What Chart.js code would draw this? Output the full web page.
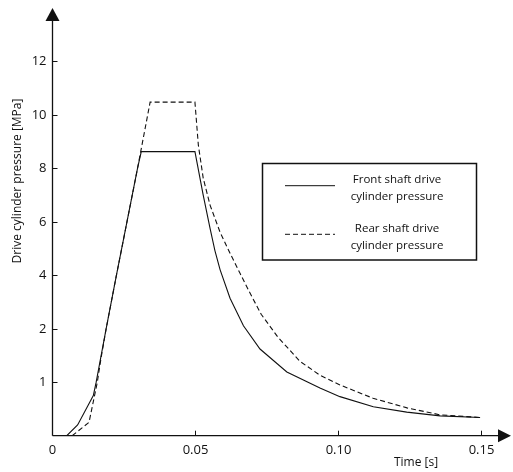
<!DOCTYPE html>
<html>
<head>
<meta charset="utf-8">
<script src="https://cdn.jsdelivr.net/npm/chart.js@4/dist/chart.umd.min.js"></script>
<style>
  html, body { margin: 0; padding: 0; background: #fff; }
  #wrap { width: 513px; height: 472px; position: relative; }
</style>
</head>
<body>
<div id="wrap"><canvas id="chart"></canvas></div>
<script>
// Front shaft drive cylinder (solid)
const frontTime = [0.0050, 0.0088, 0.0143, 0.0153, 0.0188, 0.0224, 0.0261, 0.0298, 0.0311,
  0.0499, 0.0528, 0.0552, 0.0569, 0.0587, 0.0622, 0.0669, 0.0727, 0.0821,
  0.0937, 0.1007, 0.1124, 0.1241, 0.1358, 0.1498];
const frontPressure = [0, 0.2, 0.75, 1.0, 2.0, 4.0, 6.0, 8.0, 8.62,
  8.62, 6.99, 5.75, 4.92, 4.21, 3.14, 2.11, 1.62, 1.19,
  0.89, 0.73, 0.54, 0.44, 0.37, 0.34];

// Rear shaft drive cylinder (dashed)
const rearTime = [0.0069, 0.0128, 0.0157, 0.0170, 0.0188, 0.0224, 0.0261, 0.0298, 0.0342,
  0.0499, 0.0511, 0.0528, 0.0552, 0.0587, 0.0622, 0.0657, 0.0692, 0.0731, 0.0790,
  0.0867, 0.0937, 0.1007, 0.1123, 0.1242, 0.1358, 0.1498];
const rearPressure = [0, 0.25, 1.0, 1.45, 2.0, 4.0, 6.0, 8.0, 10.47,
  10.47, 8.86, 7.63, 6.62, 5.61, 4.82, 4.07, 3.33, 2.54, 1.84,
  1.39, 1.13, 0.95, 0.70, 0.52, 0.39, 0.34];

// axes
const xTicks = [0.05, 0.10, 0.15];
const yTicks = [1, 2, 4, 6, 8, 10, 12];
// the pressure axis puts these values at equal spacing
const yBreaks = [0, 1, 2, 4, 6, 8, 10, 12, 14];

const legendLines = [
  ["Front shaft drive", "cylinder pressure"],
  ["Rear shaft drive", "cylinder pressure"],
];

const FONT = "'Open Sans', 'Noto Sans', sans-serif";
const INK = "#111";

// Scale with equally spaced, unevenly valued breakpoints
class StepScale extends Chart.LinearScale {
  getPixelForValue(value) {
    const n = yBreaks.length - 1;
    let i = 0;
    while (i < n - 1 && value > yBreaks[i + 1]) i++;
    const f = (value - yBreaks[i]) / (yBreaks[i + 1] - yBreaks[i]);
    return this.getPixelForDecimal((i + f) / n);
  }
  getValueForPixel(pixel) {
    const n = yBreaks.length - 1;
    const d = this.getDecimalForPixel(pixel) * n;
    const i = Math.max(0, Math.min(n - 1, Math.floor(d)));
    return yBreaks[i] + (d - i) * (yBreaks[i + 1] - yBreaks[i]);
  }
}
StepScale.id = "stepped";
StepScale.defaults = Chart.LinearScale.defaults;
Chart.register(StepScale);

function points(xs, ys) {
  return xs.map((x, i) => ({ x: x, y: ys[i] }));
}

// axes with arrows, inner tick marks, labels, titles and boxed legend
const decorations = {
  id: "decorations",
  afterDraw(chart) {
    const c = chart.ctx;
    const xs = chart.scales.x;
    const ys = chart.scales.y;
    const x0 = xs.getPixelForValue(0);
    const y0 = ys.getPixelForValue(0);
    c.save();
    c.strokeStyle = INK;
    c.fillStyle = INK;
    c.lineWidth = 1.3;

    // y axis + arrow
    c.beginPath();
    c.moveTo(x0, y0);
    c.lineTo(x0, 20);
    c.stroke();
    c.beginPath();
    c.moveTo(x0, 8);
    c.lineTo(x0 - 7, 21);
    c.lineTo(x0 + 7, 21);
    c.closePath();
    c.fill();

    // x axis + arrow
    c.beginPath();
    c.moveTo(x0, y0);
    c.lineTo(500, y0);
    c.stroke();
    c.beginPath();
    c.moveTo(511, y0);
    c.lineTo(498, y0 - 6.5);
    c.lineTo(498, y0 + 6.5);
    c.closePath();
    c.fill();

    // ticks
    c.lineWidth = 1;
    c.font = "13px " + FONT;
    c.textAlign = "right";
    c.textBaseline = "middle";
    yTicks.forEach((v) => {
      const p = Math.round(ys.getPixelForValue(v)) + 0.5;
      c.beginPath();
      c.moveTo(x0, p);
      c.lineTo(x0 + 5, p);
      c.stroke();
      c.fillText(String(v), x0 - 6, p);
    });
    c.textAlign = "center";
    c.textBaseline = "top";
    c.fillText("0", x0, 444);
    xTicks.forEach((v) => {
      const p = Math.round(xs.getPixelForValue(v)) + 0.5;
      c.beginPath();
      c.moveTo(p, y0);
      c.lineTo(p, y0 - 5);
      c.stroke();
      c.fillText(v.toFixed(2), p, 444);
    });

    // titles
    c.font = "12px " + FONT;
    c.textBaseline = "middle";
    c.fillText("Time [s]", 416, 463);
    c.save();
    c.translate(18, 181);
    c.rotate(-Math.PI / 2);
    c.fillText("Drive cylinder pressure [MPa]", 0, 0);
    c.restore();

    // legend
    c.lineWidth = 1.5;
    c.strokeRect(262.5, 163.5, 214, 96.5);
    c.font = "11.5px " + FONT;
    const rows = [185.7, 234.3];
    chart.data.datasets.forEach((ds, i) => {
      const y = rows[i];
      c.lineWidth = 1;
      c.setLineDash(ds.borderDash || []);
      c.beginPath();
      c.moveTo(285, y);
      c.lineTo(335, y);
      c.stroke();
      c.setLineDash([]);
      c.fillText(legendLines[i][0], 397, y - 6);
      c.fillText(legendLines[i][1], 397, y + 11.5);
    });
    c.restore();
  },
};

new Chart(document.getElementById("chart"), {
  type: "line",
  data: {
    datasets: [
      {
        label: "Front shaft drive cylinder pressure",
        data: points(frontTime, frontPressure),
        borderColor: INK,
        borderWidth: 1.1,
        pointRadius: 0,
        tension: 0,
      },
      {
        label: "Rear shaft drive cylinder pressure",
        data: points(rearTime, rearPressure),
        borderColor: INK,
        borderWidth: 1.1,
        borderDash: [5, 3],
        pointRadius: 0,
        tension: 0,
      },
    ],
  },
  options: {
    responsive: true,
    maintainAspectRatio: false,
    animation: false,
    layout: { padding: { left: 52.5, right: 3.8, top: 7.7, bottom: 36.3 } },
    plugins: { legend: { display: false }, tooltip: { enabled: false } },
    scales: {
      x: { type: "linear", min: 0, max: 0.16, display: false },
      y: { type: "stepped", min: 0, max: 14, display: false },
    },
  },
  plugins: [decorations],
});
</script>
</body>
</html>
